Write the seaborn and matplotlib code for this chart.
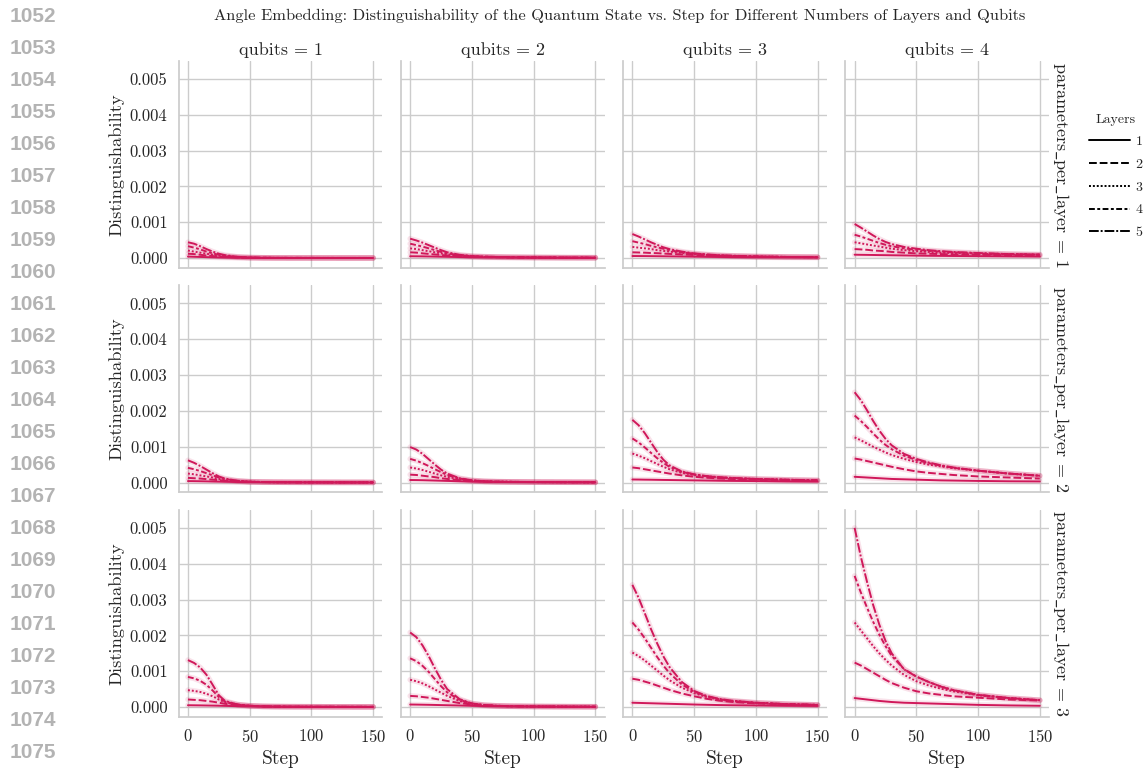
import matplotlib
matplotlib.use("Agg")
import matplotlib.pyplot as plt
import matplotlib.ticker as mticker
import pandas as pd
import seaborn as sns

# ---------------------------------------------------------------------------
# Data: mean distinguishability (in units of 1e-3) per training step.
# Each block holds one list per number of layers (1..5).
# ---------------------------------------------------------------------------
STEPS = [0, 5, 10, 15, 20, 25, 30, 40, 50, 60, 70, 80, 100, 125, 150]
LAYERS = [1, 2, 3, 4, 5]
QUBITS = [1, 2, 3, 4]
PARAMS_PER_LAYER = [1, 2, 3]
UNIT = 1e-3

PPL1_Q1 = [
    [0.04, 0.035, 0.03, 0.025, 0.02, 0.016, 0.013, 0.008, 0.005, 0.004, 0.003, 0.002, 0.002, 0.001, 0.001],
    [0.12, 0.11, 0.09, 0.07, 0.055, 0.04, 0.03, 0.017, 0.01, 0.006, 0.004, 0.003, 0.002, 0.002, 0.002],
    [0.21, 0.18, 0.15, 0.12, 0.09, 0.065, 0.045, 0.022, 0.012, 0.007, 0.005, 0.004, 0.003, 0.002, 0.002],
    [0.33, 0.29, 0.24, 0.18, 0.13, 0.09, 0.06, 0.03, 0.015, 0.008, 0.005, 0.004, 0.003, 0.002, 0.002],
    [0.44, 0.40, 0.33, 0.25, 0.18, 0.12, 0.08, 0.035, 0.015, 0.008, 0.005, 0.004, 0.003, 0.002, 0.002],
]
PPL1_Q2 = [
    [0.05, 0.048, 0.046, 0.043, 0.04, 0.037, 0.034, 0.028, 0.022, 0.018, 0.015, 0.012, 0.009, 0.007, 0.006],
    [0.16, 0.15, 0.13, 0.115, 0.10, 0.085, 0.07, 0.05, 0.035, 0.027, 0.022, 0.018, 0.013, 0.01, 0.008],
    [0.27, 0.25, 0.22, 0.19, 0.16, 0.13, 0.10, 0.065, 0.045, 0.033, 0.027, 0.022, 0.016, 0.011, 0.009],
    [0.40, 0.36, 0.32, 0.27, 0.22, 0.17, 0.13, 0.08, 0.05, 0.037, 0.03, 0.025, 0.018, 0.012, 0.01],
    [0.54, 0.49, 0.43, 0.36, 0.29, 0.22, 0.16, 0.09, 0.055, 0.04, 0.03, 0.025, 0.018, 0.012, 0.01],
]
PPL1_Q3 = [
    [0.056, 0.055, 0.054, 0.052, 0.05, 0.048, 0.046, 0.042, 0.038, 0.034, 0.03, 0.027, 0.022, 0.017, 0.014],
    [0.16, 0.155, 0.15, 0.14, 0.135, 0.125, 0.115, 0.10, 0.085, 0.07, 0.06, 0.05, 0.038, 0.028, 0.022],
    [0.31, 0.29, 0.27, 0.25, 0.22, 0.20, 0.18, 0.14, 0.11, 0.085, 0.07, 0.058, 0.042, 0.03, 0.024],
    [0.47, 0.43, 0.39, 0.34, 0.30, 0.26, 0.22, 0.16, 0.12, 0.095, 0.075, 0.06, 0.043, 0.03, 0.025],
    [0.67, 0.60, 0.52, 0.44, 0.37, 0.30, 0.25, 0.18, 0.13, 0.10, 0.08, 0.065, 0.045, 0.03, 0.025],
]
PPL1_Q4 = [
    [0.093, 0.09, 0.088, 0.085, 0.082, 0.08, 0.077, 0.072, 0.067, 0.063, 0.06, 0.057, 0.052, 0.047, 0.043],
    [0.25, 0.24, 0.23, 0.21, 0.20, 0.19, 0.17, 0.15, 0.13, 0.12, 0.11, 0.10, 0.09, 0.08, 0.07],
    [0.44, 0.41, 0.38, 0.35, 0.32, 0.29, 0.26, 0.22, 0.19, 0.17, 0.15, 0.14, 0.12, 0.10, 0.09],
    [0.65, 0.60, 0.54, 0.48, 0.42, 0.37, 0.33, 0.27, 0.23, 0.20, 0.18, 0.16, 0.13, 0.11, 0.095],
    [0.95, 0.85, 0.74, 0.63, 0.53, 0.45, 0.39, 0.31, 0.26, 0.22, 0.19, 0.17, 0.14, 0.11, 0.10],
]
PPL2_Q1 = [
    [0.04, 0.038, 0.035, 0.032, 0.028, 0.025, 0.021, 0.015, 0.01, 0.008, 0.006, 0.005, 0.004, 0.003, 0.002],
    [0.13, 0.12, 0.11, 0.095, 0.08, 0.065, 0.05, 0.03, 0.018, 0.012, 0.009, 0.007, 0.005, 0.004, 0.003],
    [0.25, 0.23, 0.20, 0.17, 0.14, 0.10, 0.075, 0.04, 0.022, 0.013, 0.01, 0.008, 0.006, 0.004, 0.003],
    [0.41, 0.37, 0.32, 0.26, 0.20, 0.14, 0.095, 0.045, 0.023, 0.014, 0.01, 0.008, 0.006, 0.004, 0.003],
    [0.62, 0.55, 0.46, 0.36, 0.26, 0.17, 0.11, 0.05, 0.025, 0.015, 0.01, 0.008, 0.006, 0.004, 0.003],
]
PPL2_Q2 = [
    [0.07, 0.068, 0.065, 0.06, 0.055, 0.05, 0.045, 0.035, 0.027, 0.02, 0.016, 0.013, 0.009, 0.007, 0.005],
    [0.22, 0.21, 0.19, 0.17, 0.15, 0.12, 0.10, 0.065, 0.04, 0.028, 0.021, 0.017, 0.012, 0.008, 0.006],
    [0.42, 0.39, 0.35, 0.30, 0.25, 0.20, 0.16, 0.09, 0.05, 0.032, 0.024, 0.019, 0.013, 0.009, 0.007],
    [0.66, 0.61, 0.54, 0.46, 0.37, 0.29, 0.21, 0.11, 0.06, 0.035, 0.025, 0.02, 0.013, 0.009, 0.007],
    [0.99, 0.92, 0.80, 0.65, 0.50, 0.36, 0.25, 0.12, 0.06, 0.035, 0.025, 0.02, 0.013, 0.009, 0.007],
]
PPL2_Q3 = [
    [0.085, 0.083, 0.08, 0.078, 0.075, 0.072, 0.07, 0.065, 0.06, 0.055, 0.05, 0.046, 0.04, 0.033, 0.028],
    [0.42, 0.40, 0.37, 0.34, 0.31, 0.28, 0.25, 0.20, 0.16, 0.135, 0.115, 0.10, 0.08, 0.06, 0.05],
    [0.81, 0.75, 0.68, 0.60, 0.52, 0.44, 0.37, 0.27, 0.21, 0.17, 0.14, 0.12, 0.095, 0.075, 0.06],
    [1.23, 1.12, 0.98, 0.83, 0.68, 0.55, 0.44, 0.30, 0.22, 0.175, 0.145, 0.125, 0.10, 0.075, 0.06],
    [1.75, 1.60, 1.38, 1.12, 0.86, 0.64, 0.48, 0.31, 0.23, 0.18, 0.15, 0.13, 0.10, 0.08, 0.06],
]
PPL2_Q4 = [
    [0.16, 0.15, 0.14, 0.13, 0.12, 0.11, 0.10, 0.09, 0.08, 0.07, 0.06, 0.055, 0.045, 0.035, 0.03],
    [0.67, 0.64, 0.60, 0.56, 0.52, 0.48, 0.44, 0.37, 0.31, 0.27, 0.24, 0.21, 0.17, 0.14, 0.11],
    [1.26, 1.18, 1.09, 1.00, 0.92, 0.84, 0.77, 0.66, 0.57, 0.50, 0.45, 0.40, 0.33, 0.25, 0.19],
    [1.87, 1.72, 1.55, 1.37, 1.20, 1.05, 0.93, 0.75, 0.63, 0.54, 0.47, 0.41, 0.33, 0.25, 0.19],
    [2.52, 2.30, 2.02, 1.72, 1.45, 1.22, 1.04, 0.80, 0.66, 0.56, 0.48, 0.42, 0.33, 0.25, 0.19],
]
PPL3_Q1 = [
    [0.05, 0.048, 0.046, 0.043, 0.04, 0.036, 0.032, 0.024, 0.017, 0.012, 0.009, 0.007, 0.005, 0.004, 0.003],
    [0.21, 0.20, 0.19, 0.17, 0.15, 0.12, 0.09, 0.05, 0.03, 0.018, 0.013, 0.01, 0.007, 0.005, 0.004],
    [0.47, 0.45, 0.42, 0.37, 0.30, 0.21, 0.13, 0.065, 0.035, 0.02, 0.014, 0.011, 0.008, 0.006, 0.005],
    [0.84, 0.80, 0.73, 0.62, 0.46, 0.28, 0.15, 0.07, 0.035, 0.02, 0.014, 0.011, 0.008, 0.006, 0.005],
    [1.31, 1.23, 1.10, 0.90, 0.62, 0.33, 0.17, 0.07, 0.035, 0.02, 0.014, 0.011, 0.008, 0.006, 0.005],
]
PPL3_Q2 = [
    [0.07, 0.068, 0.065, 0.062, 0.058, 0.054, 0.05, 0.042, 0.034, 0.027, 0.021, 0.017, 0.012, 0.009, 0.007],
    [0.31, 0.30, 0.28, 0.26, 0.23, 0.20, 0.17, 0.11, 0.07, 0.043, 0.03, 0.022, 0.015, 0.01, 0.008],
    [0.76, 0.72, 0.66, 0.58, 0.49, 0.40, 0.31, 0.17, 0.09, 0.05, 0.033, 0.024, 0.016, 0.011, 0.008],
    [1.36, 1.28, 1.15, 0.98, 0.78, 0.58, 0.41, 0.20, 0.095, 0.053, 0.034, 0.025, 0.016, 0.011, 0.008],
    [2.08, 1.95, 1.72, 1.42, 1.08, 0.76, 0.50, 0.22, 0.10, 0.055, 0.035, 0.025, 0.016, 0.011, 0.008],
]
PPL3_Q3 = [
    [0.12, 0.115, 0.11, 0.105, 0.10, 0.095, 0.09, 0.08, 0.07, 0.062, 0.055, 0.05, 0.042, 0.035, 0.03],
    [0.79, 0.76, 0.71, 0.66, 0.60, 0.54, 0.48, 0.38, 0.30, 0.23, 0.18, 0.145, 0.10, 0.075, 0.055],
    [1.52, 1.42, 1.30, 1.16, 1.02, 0.88, 0.75, 0.54, 0.39, 0.28, 0.21, 0.165, 0.115, 0.08, 0.06],
    [2.36, 2.16, 1.92, 1.66, 1.40, 1.16, 0.95, 0.63, 0.43, 0.30, 0.22, 0.17, 0.12, 0.08, 0.06],
    [3.41, 3.05, 2.62, 2.18, 1.78, 1.42, 1.12, 0.70, 0.45, 0.31, 0.23, 0.18, 0.12, 0.08, 0.06],
]
PPL3_Q4 = [
    [0.25, 0.23, 0.21, 0.19, 0.17, 0.155, 0.14, 0.12, 0.11, 0.10, 0.09, 0.08, 0.06, 0.045, 0.035],
    [1.24, 1.16, 1.06, 0.96, 0.86, 0.76, 0.67, 0.54, 0.44, 0.38, 0.34, 0.30, 0.26, 0.21, 0.18],
    [2.36, 2.14, 1.92, 1.70, 1.50, 1.32, 1.16, 0.90, 0.72, 0.60, 0.51, 0.44, 0.33, 0.25, 0.19],
    [3.66, 3.20, 2.78, 2.38, 2.02, 1.70, 1.43, 1.06, 0.85, 0.70, 0.57, 0.47, 0.34, 0.25, 0.19],
    [5.00, 4.20, 3.50, 2.85, 2.30, 1.85, 1.50, 1.05, 0.85, 0.70, 0.57, 0.47, 0.34, 0.25, 0.19],
]

PANELS = {
    (1, 1): PPL1_Q1, (1, 2): PPL1_Q2, (1, 3): PPL1_Q3, (1, 4): PPL1_Q4,
    (2, 1): PPL2_Q1, (2, 2): PPL2_Q2, (2, 3): PPL2_Q3, (2, 4): PPL2_Q4,
    (3, 1): PPL3_Q1, (3, 2): PPL3_Q2, (3, 3): PPL3_Q3, (3, 4): PPL3_Q4,
}

LINE_COLOR = "#d0185a"
TITLE = ("Angle Embedding: Distinguishability of the Quantum State vs. Step "
         "for Different Numbers of Layers and Qubits")
LINE_NUMBERS = list(range(1052, 1076))

# ---------------------------------------------------------------------------
# Long-form table
# ---------------------------------------------------------------------------
rows = []
for (ppl, q), block in PANELS.items():
    for layer, series in zip(LAYERS, block):
        for step, val in zip(STEPS, series):
            rows.append({"parameters_per_layer": ppl, "qubits": q,
                         "Layers": layer, "Step": step,
                         "Distinguishability": val * UNIT})
df = pd.DataFrame(rows)

# ---------------------------------------------------------------------------
# Style
# ---------------------------------------------------------------------------
sns.set_theme(style="whitegrid")
plt.rcParams["font.family"] = ["cmr10", "DejaVu Serif"]
plt.rcParams["mathtext.fontset"] = "cm"
plt.rcParams["axes.formatter.use_mathtext"] = True
plt.rcParams.update({
    "xtick.major.size": 0, "ytick.major.size": 0,
    "xtick.major.pad": 8, "ytick.major.pad": 8,
    "xtick.labelsize": 12, "ytick.labelsize": 12,
    "axes.labelsize": 14, "axes.titlesize": 13,
    "axes.titlepad": 4,
})

g = sns.relplot(
    data=df, x="Step", y="Distinguishability",
    row="parameters_per_layer", col="qubits", style="Layers",
    kind="line", color=LINE_COLOR, linewidth=1.4,
    height=2.07, aspect=1.0,
    facet_kws=dict(margin_titles=True, sharex=True, sharey=True),
)

# soft halo beneath every curve
g.map_dataframe(sns.lineplot, x="Step", y="Distinguishability",
                units="Layers", estimator=None, color=LINE_COLOR,
                alpha=0.12, linewidth=4.0, zorder=1)

fig = g.figure
fig.set_size_inches(11.47, 7.68)
fig.subplots_adjust(left=0.1558, right=0.9146, top=0.9206, bottom=0.0668,
                    wspace=0.091, hspace=0.086)

g.set_titles(col_template="qubits = {col_name}",
             row_template="$\\mathrm{{parameters\\_per\\_layer}}$ = {row_name}",
             size=13)
for t in g._margin_titles_texts:
    t.set_x(1.012)
g.set_axis_labels("Step", "Distinguishability")
for ax in g.axes[:, 0]:
    ax.yaxis.label.set_size(13.3)
g.set(xticks=[0, 50, 100, 150], yticks=[0, 0.001, 0.002, 0.003, 0.004, 0.005],
      xlim=(-7.5, 157.5), ylim=(-0.00027, 0.0055))
for ax in g.axes.flat:
    ax.yaxis.set_major_formatter(mticker.FormatStrFormatter("%.3f"))

sns.move_legend(g, "upper left", bbox_to_anchor=(1076 / 1147, 1 - 101 / 768),
                frameon=False, fontsize=10, title_fontsize=10,
                handlelength=3.0, handletextpad=0.4, labelspacing=0.72)
for line in g.legend.get_lines():
    line.set_color("black")

fig.text(620 / 1147, 1 - 16 / 768, TITLE, ha="center", va="center", fontsize=11.8)

for i, n in enumerate(LINE_NUMBERS):
    fig.text(10 / 1147, 1 - (17 + 31.96 * i) / 768, str(n), ha="left",
             va="center", fontsize=15, fontweight="bold", color="#b3b3b3",
             family=["Liberation Sans", "DejaVu Sans"])

fig.savefig("out.png", dpi=100)
